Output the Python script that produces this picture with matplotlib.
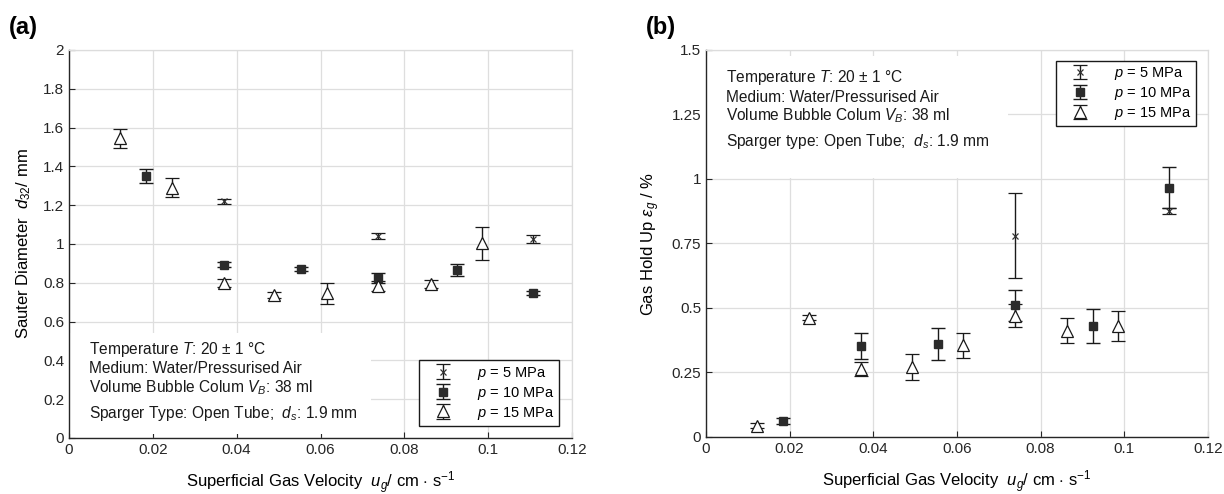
import matplotlib
matplotlib.use("Agg")
import matplotlib.pyplot as plt
from matplotlib.ticker import FormatStrFormatter
from matplotlib.patches import Rectangle

plt.rcParams['font.family'] = ['Liberation Sans', 'DejaVu Sans']
plt.rcParams['mathtext.fontset'] = 'custom'
plt.rcParams['mathtext.rm'] = 'Liberation Sans'
plt.rcParams['mathtext.it'] = 'Liberation Sans:italic'

# ---- panel (a): Sauter diameter d32 / mm ----
a5_x = [0.037, 0.0737, 0.1107]
a5_y = [1.22, 1.04, 1.026]
a5_e = [0.012, 0.015, 0.022]

a10_x = [0.0184, 0.037, 0.0553, 0.0737, 0.0925, 0.1107]
a10_y = [1.35, 0.893, 0.873, 0.823, 0.866, 0.746]
a10_e = [0.035, 0.012, 0.01, 0.025, 0.03, 0.01]

a15_x = [0.0122, 0.0245, 0.037, 0.049, 0.0615, 0.0737, 0.0863, 0.0985]
a15_y = [1.545, 1.29, 0.80, 0.735, 0.745, 0.785, 0.795, 1.005]
a15_e = [0.05, 0.05, 0.022, 0.015, 0.055, 0.025, 0.02, 0.085]

# ---- panel (b): gas hold up eps_g / % ----
b5_x = [0.0739, 0.1107]
b5_y = [0.78, 0.876]
b5_e = [0.165, 0.012]

b10_x = [0.0184, 0.037, 0.0554, 0.0739, 0.0925, 0.1107]
b10_y = [0.062, 0.353, 0.36, 0.51, 0.43, 0.966]
b10_e = [0.01, 0.05, 0.062, 0.06, 0.065, 0.08]

b15_x = [0.0122, 0.0246, 0.037, 0.0493, 0.0615, 0.0739, 0.0863, 0.0985]
b15_y = [0.043, 0.462, 0.263, 0.27, 0.355, 0.47, 0.412, 0.432]
b15_e = [0.01, 0.01, 0.027, 0.05, 0.05, 0.045, 0.048, 0.058]

labels = [r'$p$ = 5 MPa', r'$p$ = 10 MPa', r'$p$ = 15 MPa']

fig = plt.figure(figsize=(12.24, 4.94), dpi=100)
ax1 = fig.add_axes([0.0564, 0.1134, 0.4109, 0.7854])
ax2 = fig.add_axes([0.5768, 0.1154, 0.4101, 0.7834])


def style_axes(ax, ylim, yticks):
    ax.set_xlim(0, 0.12)
    ax.set_ylim(*ylim)
    ax.set_xticks([0, 0.02, 0.04, 0.06, 0.08, 0.1, 0.12])
    ax.set_yticks(yticks)
    ax.xaxis.set_major_formatter(FormatStrFormatter('%g'))
    ax.yaxis.set_major_formatter(FormatStrFormatter('%g'))
    ax.set_axisbelow(True)
    ax.grid(True, color='#dedede', linewidth=0.9)
    ax.tick_params(direction='in', length=4, labelsize=11, colors='#262626')
    for s in ['left', 'bottom']:
        ax.spines[s].set_color('#262626')
        ax.spines[s].set_linewidth(1.0)
    for s in ['top', 'right']:
        ax.spines[s].set_color('#dcdcdc')
        ax.spines[s].set_linewidth(0.9)


def draw_series(ax, x5, y5, e5, x10, y10, e10, x15, y15, e15):
    h5 = ax.errorbar(x5, y5, yerr=e5, fmt='x', ms=5, mew=0.9, color='#333333',
                     ecolor='#1a1a1a', elinewidth=1.0, capsize=5, capthick=1.0, zorder=3)
    h10 = ax.errorbar(x10, y10, yerr=e10, fmt='s', ms=5.5, mfc='#2b2b2b', mec='#2b2b2b',
                      ecolor='#1a1a1a', elinewidth=1.0, capsize=5, capthick=1.0, zorder=3)
    h15 = ax.errorbar(x15, y15, yerr=e15, fmt='^', ms=9, mfc='white', mec='#1a1a1a', mew=0.9,
                      ecolor='#1a1a1a', elinewidth=1.0, capsize=5, capthick=1.0, zorder=3)
    return [h5, h10, h15]


def add_legend(ax, h, anchor, loc):
    leg = ax.legend(h, labels, loc=loc, bbox_to_anchor=anchor, borderaxespad=0, fontsize=10.5,
                    frameon=True, fancybox=False, edgecolor='#1a1a1a', framealpha=1,
                    handlelength=2.8, handletextpad=0.9, borderpad=0.3, labelspacing=0.2)
    leg.get_frame().set_linewidth(1.0)


# panel (a)
style_axes(ax1, (0, 2), [0, 0.2, 0.4, 0.6, 0.8, 1, 1.2, 1.4, 1.6, 1.8, 2])
ax1.add_patch(Rectangle((0.001, 0.01), 0.6, 0.26, transform=ax1.transAxes,
                        facecolor='white', edgecolor='none', zorder=1))
h = draw_series(ax1, a5_x, a5_y, a5_e, a10_x, a10_y, a10_e, a15_x, a15_y, a15_e)
txt_a = ['Temperature $T$: 20 ± 1 °C', 'Medium: Water/Pressurised Air',
         'Volume Bubble Colum $V_B$: 38 ml', 'Sparger Type: Open Tube;  $d_s$: 1.9 mm']
for i, t in enumerate(txt_a):
    yy = [0.229, 0.180, 0.129, 0.064][i]
    ax1.text(0.04, yy, t, transform=ax1.transAxes, fontsize=11.2, va='center', ha='left',
             color='#1a1a1a', zorder=2)
ax1.set_xlabel(r'Superficial Gas Velocity  $u_g$/ cm $\cdot$ s$^{-1}$', fontsize=12, labelpad=9)
ax1.set_ylabel(r'Sauter Diameter  $d_{32}$/ mm', fontsize=12, labelpad=7)
add_legend(ax1, h, (0.974, 0.031), 'lower right')

# panel (b)
style_axes(ax2, (0, 1.5), [0, 0.25, 0.5, 0.75, 1, 1.25, 1.5])
ax2.add_patch(Rectangle((0.002, 0.67), 0.6, 0.315, transform=ax2.transAxes,
                        facecolor='white', edgecolor='none', zorder=1))
h = draw_series(ax2, b5_x, b5_y, b5_e, b10_x, b10_y, b10_e, b15_x, b15_y, b15_e)
txt_b = ['Temperature $T$: 20 ± 1 °C', 'Medium: Water/Pressurised Air',
         'Volume Bubble Colum $V_B$: 38 ml', 'Sparger type: Open Tube;  $d_s$: 1.9 mm']
for i, t in enumerate(txt_b):
    yy = [0.93, 0.878, 0.83, 0.763][i]
    ax2.text(0.04, yy, t, transform=ax2.transAxes, fontsize=11.2, va='center', ha='left',
             color='#1a1a1a', zorder=2)
ax2.set_xlabel(r'Superficial Gas Velocity  $u_g$/ cm $\cdot$ s$^{-1}$', fontsize=12, labelpad=9)
ax2.set_ylabel(r'Gas Hold Up $\epsilon_g$ / %', fontsize=12, labelpad=7)
add_legend(ax2, h, (0.976, 0.972), 'upper right')

fig.text(0.007, 0.945, '(a)', fontsize=17, fontweight='bold', va='center', ha='left')
fig.text(0.528, 0.945, '(b)', fontsize=17, fontweight='bold', va='center', ha='left')

fig.savefig('out.png', dpi=100)
